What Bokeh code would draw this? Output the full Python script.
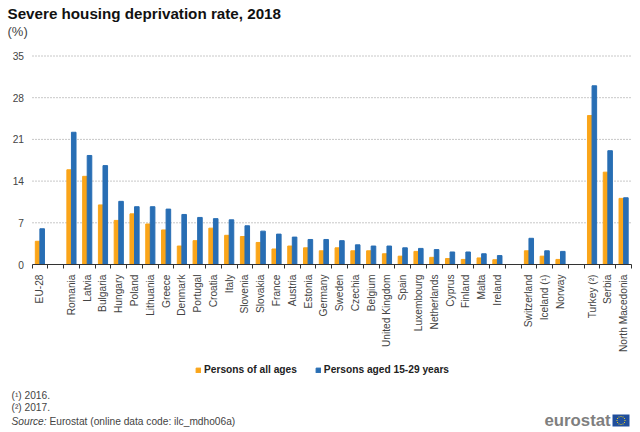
import math
from bokeh.plotting import figure
from bokeh.embed import file_html
from bokeh.resources import INLINE
from bokeh.models import (ColumnDataSource, Label, FixedTicker, Legend, LegendItem,
                          BoxAnnotation, Range1d)

categories = ["EU-28", "", "Romania", "Latvia", "Bulgaria", "Hungary", "Poland", "Lithuania", "Greece",
              "Denmark", "Portugal", "Croatia", "Italy", "Slovenia", "Slovakia", "France", "Austria",
              "Estonia", "Germany", "Sweden", "Czechia", "Belgium", "United Kingdom", "Spain",
              "Luxembourg", "Netherlands", "Cyprus", "Finland", "Malta", "Ireland", "",
              "Switzerland", "Iceland (¹)", "Norway", "", "Turkey (²)", "Serbia", "North Macedonia"]
all_ages = [3.9, None, 15.9, 14.8, 10.0, 7.4, 8.5, 6.8, 5.8, 3.1, 4.0, 6.1, 4.9, 4.7, 3.7, 2.6, 3.1,
            2.8, 2.3, 2.8, 2.3, 2.3, 1.8, 1.4, 2.2, 1.2, 1.0, 0.85, 1.1, 0.8, None,
            2.3, 1.4, 0.85, None, 25.0, 15.5, 11.1]
aged_15_29 = [6.0, None, 22.2, 18.3, 16.6, 10.6, 9.7, 9.7, 9.3, 8.4, 7.9, 7.7, 7.5, 6.5, 5.6, 5.1, 4.6,
              4.2, 4.2, 4.0, 3.3, 3.1, 3.1, 2.8, 2.7, 2.5, 2.1, 2.1, 1.8, 1.5, None,
              4.4, 2.3, 2.2, None, 30.0, 19.1, 11.2]
y_ticks = [0, 7, 14, 21, 28, 35]
ORANGE = "#FAA519"
BLUE = "#286EB4"
FONT = "Liberation Sans"
TXT = "#444444"

W, H = 640, 432
LEFT, RIGHT, TOP, BOTTOM = 31.5, 631, 55.5, 264

idx = [i for i, c in enumerate(categories) if c]
src_a = ColumnDataSource(dict(x=[i - 0.145 for i in idx], top=[all_ages[i] for i in idx]))
src_b = ColumnDataSource(dict(x=[i + 0.145 for i in idx], top=[aged_15_29[i] for i in idx]))

n = len(categories)
ux = (RIGHT - LEFT) / n
uy = (BOTTOM - TOP) / 35
p = figure(width=W, height=H, output_backend="svg", toolbar_location=None,
           x_range=Range1d(-0.5 - LEFT / ux, n - 0.5 + (W - RIGHT) / ux),
           y_range=Range1d(-(H - BOTTOM) / uy, BOTTOM / uy),
           min_border=0, min_border_left=0, min_border_right=0, min_border_top=0, min_border_bottom=0)
p.outline_line_color = None
p.background_fill_color = "white"
p.grid.visible = False

p.segment(x0=[-0.5] * len(y_ticks[1:]), x1=[n - 0.5] * len(y_ticks[1:]), y0=y_ticks[1:], y1=y_ticks[1:],
          line_color="#c8c8c8", line_dash="2 1", line_width=1, level="underlay")
ra = p.vbar(x="x", top="top", bottom=0, width=0.29, color=ORANGE, source=src_a)
rb = p.vbar(x="x", top="top", bottom=0, width=0.29, color=BLUE, source=src_b)

ax = p.xaxis[0]
ax.fixed_location = 0
ax.bounds = (-0.5, n - 0.5)
ax.ticker = FixedTicker(ticks=idx, minor_ticks=[i - 0.5 for i in range(n + 1)])
ax.major_label_overrides = {i: categories[i] for i in idx}
ax.major_label_orientation = math.pi / 2
ax.major_tick_in = 0
ax.major_tick_out = 0
ax.minor_tick_in = 0
ax.minor_tick_out = 4
ax.minor_tick_line_color = "#333333"
ax.axis_line_color = "#333333"
ax.major_label_standoff = 6
ax.major_label_text_font = FONT
ax.major_label_text_font_size = "10.2px"
ax.major_label_text_color = TXT

ay = p.yaxis[0]
ay.fixed_location = -0.5
ay.bounds = (0, 35)
ay.ticker = FixedTicker(ticks=y_ticks)
ay.axis_line_color = None
ay.major_tick_line_color = None
ay.minor_tick_line_color = None
ay.major_tick_in = 0
ay.major_tick_out = 0
ay.minor_tick_in = 0
ay.minor_tick_out = 0
ay.major_label_standoff = 8
ay.major_label_text_font = FONT
ay.major_label_text_font_size = "10.2px"
ay.major_label_text_color = TXT


def text(x, y, t, size, color=TXT, style="normal"):
    p.add_layout(Label(x=x, y=y, x_units="canvas", y_units="canvas", text=t,
                       text_font=FONT, text_font_size=size, text_color=color,
                       text_font_style=style, text_baseline="alphabetic"))


text(7, 13, "Severe housing deprivation rate, 2018", "15.2px", "#111111", "bold")
text(7, 31, "(%)", "13px", TXT)
text(11, 395, "(¹) 2016.", "10.2px", TXT)
text(11, 407, "(²) 2017.", "10.2px", TXT)
text(11, 421, "Source:", "10.2px", TXT, "italic")
text(49, 421, "Eurostat (online data code: ilc_mdho06a)", "10.2px", TXT)
text(544, 420, "eurostat", "16.8px", "#7f7f7f", "bold")

legend = Legend(items=[LegendItem(label="Persons of all ages", renderers=[ra]),
                       LegendItem(label="Persons aged 15-29 years", renderers=[rb])],
                orientation="horizontal", location=(195, H - 375), background_fill_alpha=0,
                border_line_color=None, glyph_width=6, glyph_height=6, label_standoff=3,
                spacing=18, padding=0, margin=0,
                label_text_font=FONT, label_text_font_size="10.2px",
                label_text_font_style="bold", label_text_color="#222222")
p.add_layout(legend, "center")


def box(l, t, r, b, color):
    p.add_layout(BoxAnnotation(left=l, right=r, top=t, bottom=b,
                               left_units="canvas", right_units="canvas", top_units="canvas",
                               bottom_units="canvas", fill_color=color, fill_alpha=1,
                               line_color=None, level="overlay"))


box(612, 414, 629, 426, "#1f4e9c")
for k in range(12):
    a = 2 * math.pi * k / 12
    cx, cy = 620.5 + 4 * math.cos(a), 420 + 4 * math.sin(a)
    box(cx - 0.5, cy - 0.5, cx + 0.5, cy + 0.5, "#e8d020")

open("out.html", "w").write(file_html(p, INLINE))
